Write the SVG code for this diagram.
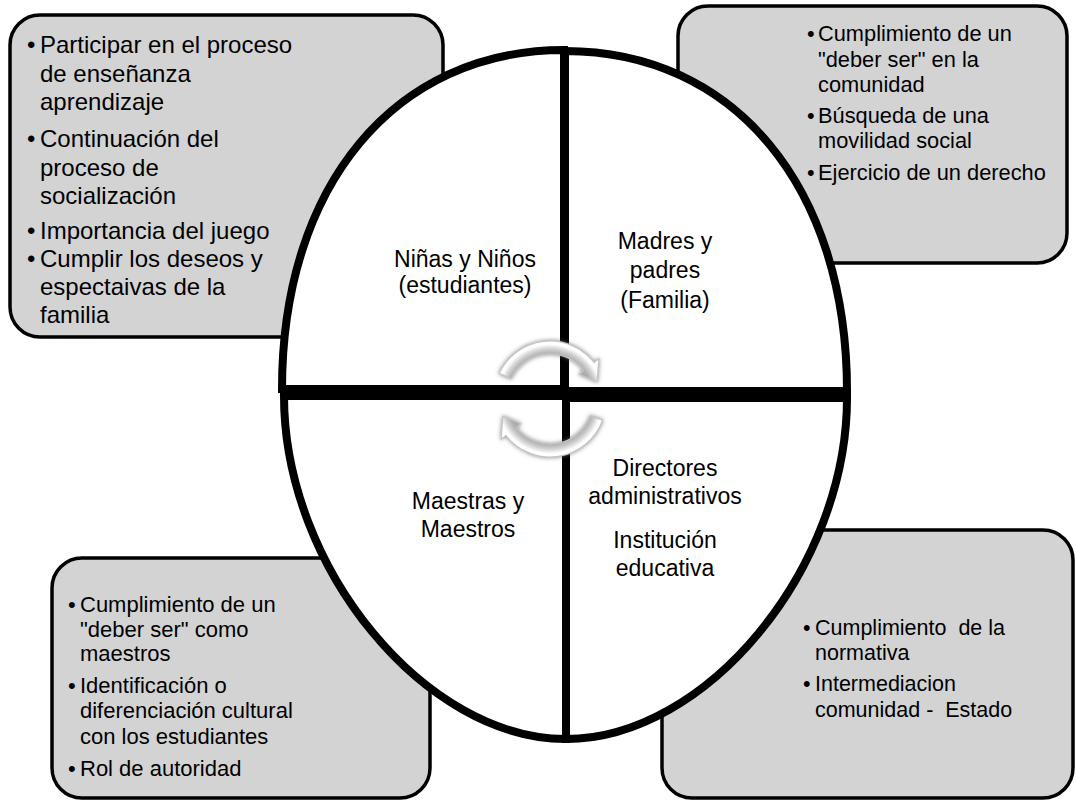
<svg xmlns="http://www.w3.org/2000/svg" width="1076" height="803" viewBox="0 0 1076 803">
<style>
.box{fill:#d3d3d3;stroke:#000;stroke-width:3.5}
.quad{fill:#fff;stroke:#000;stroke-width:8}
.t{font-family:"Liberation Sans",Arial,sans-serif;fill:#000}
.lbl{font-family:"Liberation Sans",Arial,sans-serif;font-size:23px;fill:#000;text-anchor:middle}
.arr{stroke:#c4c4c4;stroke-width:1.2;filter:url(#sh)}
</style>
<defs>
<filter id="sh" x="-30%" y="-30%" width="160%" height="160%">
<feDropShadow dx="0" dy="0" stdDeviation="2.2" flood-color="#666" flood-opacity="0.8"/>
</filter>
<radialGradient id="g1" gradientUnits="userSpaceOnUse" cx="550" cy="397" r="62">
<stop offset="0.69" stop-color="#acacac"/>
<stop offset="0.77" stop-color="#cfcfcf"/>
<stop offset="0.85" stop-color="#ffffff"/>
<stop offset="1" stop-color="#ffffff"/>
</radialGradient>
<radialGradient id="g2" gradientUnits="userSpaceOnUse" cx="550" cy="401" r="62">
<stop offset="0.69" stop-color="#acacac"/>
<stop offset="0.77" stop-color="#cfcfcf"/>
<stop offset="0.85" stop-color="#ffffff"/>
<stop offset="1" stop-color="#ffffff"/>
</radialGradient>
</defs>
<rect width="1076" height="803" fill="#fff"/>
<g id="box-tl">
<rect class="box" x="10" y="15" width="433" height="322" rx="30"/>
<text class="t" font-size="24">
<tspan x="27" y="53">•</tspan><tspan x="40" y="53">Participar en el proceso</tspan>
<tspan x="40" y="82">de enseñanza</tspan>
<tspan x="40" y="110">aprendizaje</tspan>
<tspan x="27" y="147">•</tspan><tspan x="40" y="147">Continuación del</tspan>
<tspan x="40" y="176">proceso de</tspan>
<tspan x="40" y="204">socialización</tspan>
<tspan x="27" y="239">•</tspan><tspan x="40" y="239">Importancia del juego</tspan>
<tspan x="27" y="267">•</tspan><tspan x="40" y="267">Cumplir los deseos y</tspan>
<tspan x="40" y="295">espectaivas de la</tspan>
<tspan x="40" y="323">familia</tspan>
</text>
</g>
<g id="box-tr">
<rect class="box" x="678" y="6" width="389" height="257" rx="30"/>
<text class="t" font-size="21.8">
<tspan x="807" y="41">•</tspan><tspan x="818" y="41">Cumplimiento de un</tspan>
<tspan x="818" y="67">"deber ser" en la</tspan>
<tspan x="818" y="92">comunidad</tspan>
<tspan x="807" y="123">•</tspan><tspan x="818" y="123">Búsqueda de una</tspan>
<tspan x="818" y="148">movilidad social</tspan>
<tspan x="807" y="180">•</tspan><tspan x="818" y="180">Ejercicio de un derecho</tspan>
</text>
</g>
<g id="box-bl">
<rect class="box" x="52" y="558" width="378" height="240" rx="30"/>
<text class="t" font-size="22">
<tspan x="68" y="612">•</tspan><tspan x="80" y="612">Cumplimiento de un</tspan>
<tspan x="80" y="637">"deber ser" como</tspan>
<tspan x="80" y="661">maestros</tspan>
<tspan x="68" y="693">•</tspan><tspan x="80" y="693">Identificación o</tspan>
<tspan x="80" y="718">diferenciación cultural</tspan>
<tspan x="80" y="744">con los estudiantes</tspan>
<tspan x="68" y="776">•</tspan><tspan x="80" y="776">Rol de autoridad</tspan>
</text>
</g>
<g id="box-br">
<rect class="box" x="662" y="530" width="411" height="268" rx="30"/>
<text class="t" font-size="21.5" xml:space="preserve"><tspan x="803" y="635">•</tspan><tspan x="815" y="635">Cumplimiento  de la</tspan><tspan x="815" y="660">normativa</tspan><tspan x="803" y="691">•</tspan><tspan x="815" y="691">Intermediacion</tspan><tspan x="815" y="717">comunidad -  Estado</tspan></text>
</g>
<g id="q-ninos">
<path class="quad" d="M564,389 H282 C282,185.6 394.8,50 564,50 Z"/>
<text class="lbl"><tspan x="465" y="267">Niñas y Niños</tspan><tspan x="465" y="293">(estudiantes)</tspan></text>
</g>
<g id="q-familia">
<path class="quad" d="M565,391 V51 C734.2,51 847,187 847,391 Z"/>
<text class="lbl"><tspan x="665" y="249">Madres y</tspan><tspan x="665" y="278">padres</tspan><tspan x="665" y="308">(Familia)</tspan></text>
</g>
<g id="q-maestros">
<path class="quad" d="M566,396 H284 C284,567.5 425,739 566,739 Z"/>
<text class="lbl"><tspan x="468" y="509">Maestras y</tspan><tspan x="468" y="537">Maestros</tspan></text>
</g>
<g id="q-directores">
<path class="quad" d="M566,398 H847 C847,568.5 706.5,739 566,739 Z"/>
<text class="lbl"><tspan x="665" y="476">Directores</tspan><tspan x="665" y="504">administrativos</tspan><tspan x="665" y="548">Institución</tspan><tspan x="665" y="576">educativa</tspan></text>
</g>
<g id="connectors">
<path class="arr" fill="url(#g1)" d="M499.2,373.3 A56,56 0 0 1 594.1,362.5 L598.9,358.8 L597.1,381.7 L579.2,374.2 L583.9,370.5 A43,43 0 0 0 511,378.8 Z"/>
<path class="arr" fill="url(#g2)" d="M602.6,420.2 A56,56 0 0 1 505.9,435.5 L501.1,439.2 L502.9,416.3 L520.8,423.8 L516.1,427.5 A43,43 0 0 0 590.4,415.7 Z"/>
</g>
</svg>
